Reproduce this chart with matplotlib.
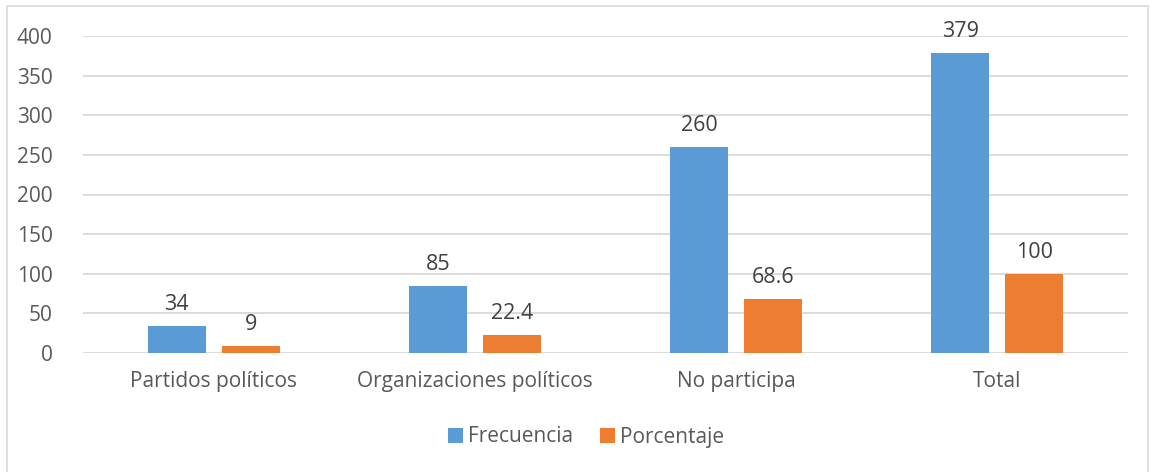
import matplotlib.pyplot as plt
import numpy as np
from matplotlib.patches import Rectangle

categorias = ['Partidos políticos', 'Organizaciones políticos', 'No participa', 'Total']
frecuencia = [34, 85, 260, 379]
porcentaje = [9, 22.4, 68.6, 100]
etiquetas_frec = ['34', '85', '260', '379']
etiquetas_porc = ['9', '22.4', '68.6', '100']

plt.rcParams['font.family'] = ['Open Sans', 'DejaVu Sans']
gris = '#595959'

fig = plt.figure(figsize=(11.5, 4.72), dpi=100)
ax = fig.add_axes([83 / 1150, 1 - 353 / 472, 1045 / 1150, 317 / 472])

# marco del gráfico
fig.patches.append(Rectangle((7 / 1150, -0.05), 1141 / 1150, 1.05 - 6 / 472,
                             transform=fig.transFigure, fill=False,
                             edgecolor='#d9d9d9', linewidth=1.2))

x = np.arange(len(categorias))
ancho = 0.222
b1 = ax.bar(x - 0.142, frecuencia, ancho, color='#5b9bd5', label='Frecuencia', zorder=3)
b2 = ax.bar(x + 0.142, porcentaje, ancho, color='#ed7d31', label='Porcentaje', zorder=3)

for barras, textos in [(b1, etiquetas_frec), (b2, etiquetas_porc)]:
    for b, t in zip(barras, textos):
        ax.annotate(t, (b.get_x() + b.get_width() / 2, b.get_height()),
                    textcoords='offset points', xytext=(0, 8), ha='center',
                    va='bottom', fontsize=15.5, color='#404040')

ax.set_xlim(-0.5, 3.5)
ax.set_ylim(0, 400)
ax.set_yticks(range(0, 401, 50))
ax.set_xticks(x)
ax.set_xticklabels(categorias)
ax.tick_params(axis='both', length=0, labelsize=15, colors=gris)
ax.tick_params(axis='x', pad=13)
ax.tick_params(axis='y', pad=22)
ax.grid(axis='y', color='#d9d9d9', linewidth=1.3, zorder=0)
for s in ax.spines.values():
    s.set_visible(False)

fig.legend(loc='center', bbox_to_anchor=(586 / 1150, 1 - 437 / 472), ncol=2,
           frameon=False, fontsize=15, labelcolor=gris, handlelength=0.7,
           handleheight=0.7, handletextpad=0.25, columnspacing=1.3)

fig.savefig('out.png', dpi=100)
